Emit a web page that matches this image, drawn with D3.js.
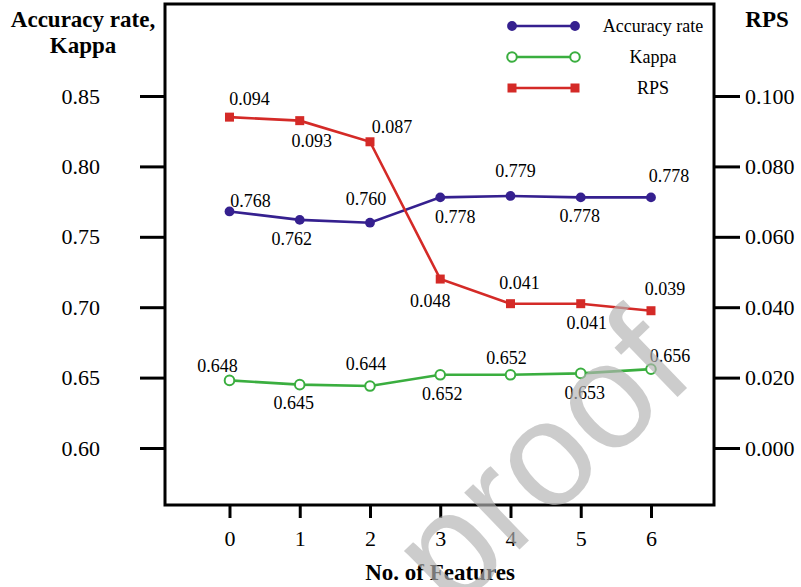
<!DOCTYPE html>
<html>
<head>
<meta charset="utf-8">
<script src="https://cdn.jsdelivr.net/npm/d3@7"></script>
<style>
  html, body { margin: 0; padding: 0; background: #fff; }
  svg { display: block; }
</style>
</head>
<body>
<svg id="chart" width="801" height="587"></svg>
<script>
// Number of features removed, and the three evaluation measures
const features = [0, 1, 2, 3, 4, 5, 6];
const accuracy = [0.768, 0.762, 0.760, 0.778, 0.779, 0.778, 0.778];
const kappa    = [0.648, 0.645, 0.644, 0.652, 0.652, 0.653, 0.656];
const rps      = [0.094, 0.093, 0.087, 0.048, 0.041, 0.041, 0.039];

const leftTicks  = [0.60, 0.65, 0.70, 0.75, 0.80, 0.85];
const rightTicks = [0.000, 0.020, 0.040, 0.060, 0.080, 0.100];

// Value-label placement around each marker: [dx, dy] in pixels
const accLabelOffset = [[21, -4], [-8, 25], [-4, -18], [15, 26], [5, -19], [-1, 25], [18, -15]];
const kapLabelOffset = [[-12, -8], [-6, 24], [-4, -16], [2, 25], [-4, -11], [4, 26], [19, -7]];
const rpsLabelOffset = [[20, -12], [12, 26], [22, -9], [-10, 28], [9, -15], [6, 25], [14, -16]];

const COL_ACC = "#35208f";
const COL_KAP = "#3aae3f";
const COL_RPS = "#d42a27";
const SERIF = "'Liberation Serif', 'Times New Roman', serif";

const svg = d3.select("#chart");

const frame = { left: 165, right: 714, top: 4, bottom: 505 };

const x = d3.scaleLinear().domain([-0.918, 6.897]).range([frame.left, frame.right]);
const yL = d3.scaleLinear().domain([0.55952, 0.91534]).range([frame.bottom, frame.top]);
const yR = d3.scaleLinear().domain([-0.01619, 0.12614]).range([frame.bottom, frame.top]);

// Axes
function styleAxis(g) {
  g.select(".domain").remove();
  g.selectAll(".tick line").attr("stroke", "#000").attr("stroke-width", 3);
  g.selectAll(".tick text")
    .attr("fill", "#000")
    .style("font-family", SERIF)
    .style("font-size", "22px");
}

svg.append("g")
  .attr("transform", `translate(${frame.left},0)`)
  .call(d3.axisLeft(yL).tickValues(leftTicks).tickSize(25).tickPadding(40)
    .tickFormat(d3.format(".2f")))
  .call(styleAxis);

svg.append("g")
  .attr("transform", `translate(${frame.right},0)`)
  .call(d3.axisRight(yR).tickValues(rightTicks).tickSize(26).tickPadding(5)
    .tickFormat(d3.format(".3f")))
  .call(styleAxis);

svg.append("g")
  .attr("transform", `translate(0,${frame.bottom})`)
  .call(d3.axisBottom(x).tickValues(features).tickSize(13).tickPadding(12)
    .tickFormat(d3.format("d")))
  .call(styleAxis);

// Plot frame
svg.append("rect")
  .attr("x", frame.left).attr("y", frame.top)
  .attr("width", frame.right - frame.left)
  .attr("height", frame.bottom - frame.top)
  .attr("fill", "none").attr("stroke", "#000").attr("stroke-width", 3);

// Axis titles
const titleStyle = sel => sel
  .style("font-family", SERIF).style("font-size", "23px")
  .style("font-weight", "bold").attr("text-anchor", "middle").attr("fill", "#000");

svg.append("text").attr("x", 83).attr("y", 27).text("Accuracy rate,").call(titleStyle);
svg.append("text").attr("x", 83).attr("y", 53).text("Kappa").call(titleStyle);
svg.append("text").attr("x", 767).attr("y", 27).text("RPS").call(titleStyle);
svg.append("text").attr("x", 440).attr("y", 580).text("No. of Features").call(titleStyle);

// Series
function drawMarker(g, type, color, cx, cy) {
  if (type === "square") {
    g.append("rect")
      .attr("x", cx - 4.5).attr("y", cy - 4.5)
      .attr("width", 9).attr("height", 9)
      .attr("fill", color);
  } else if (type === "open") {
    g.append("circle").attr("cx", cx).attr("cy", cy).attr("r", 4.8)
      .attr("fill", "#fff").attr("stroke", color).attr("stroke-width", 2);
  } else {
    g.append("circle").attr("cx", cx).attr("cy", cy).attr("r", 4.9)
      .attr("fill", color);
  }
}

function drawSeries(values, yScale, color, marker, offsets, fmt) {
  const g = svg.append("g");
  const line = d3.line().x((d, i) => x(features[i])).y(d => yScale(d));
  g.append("path").datum(values)
    .attr("d", line).attr("fill", "none")
    .attr("stroke", color).attr("stroke-width", 2.6);
  values.forEach((v, i) => drawMarker(g, marker, color, x(features[i]), yScale(v)));
  g.selectAll("text.val").data(values).enter().append("text")
    .attr("class", "val")
    .attr("x", (d, i) => x(features[i]) + offsets[i][0])
    .attr("y", (d, i) => yScale(d) + offsets[i][1])
    .attr("text-anchor", "middle")
    .style("font-family", SERIF).style("font-size", "18px")
    .attr("fill", "#000")
    .text(d => d3.format(fmt)(d));
}

drawSeries(kappa, yL, COL_KAP, "open", kapLabelOffset, ".3f");
drawSeries(accuracy, yL, COL_ACC, "filled", accLabelOffset, ".3f");
drawSeries(rps, yR, COL_RPS, "square", rpsLabelOffset, ".3f");

// Legend
const legendItems = [
  { name: "Accuracy rate", color: COL_ACC, marker: "filled" },
  { name: "Kappa", color: COL_KAP, marker: "open" },
  { name: "RPS", color: COL_RPS, marker: "square" }
];
const legend = svg.append("g");
legendItems.forEach((item, i) => {
  const ly = 26 + i * 31;
  legend.append("line")
    .attr("x1", 512).attr("x2", 575).attr("y1", ly).attr("y2", ly)
    .attr("stroke", item.color).attr("stroke-width", 2.6);
  drawMarker(legend, item.marker, item.color, 512, ly);
  drawMarker(legend, item.marker, item.color, 575, ly);
  legend.append("text")
    .attr("x", 653).attr("y", ly + 6)
    .attr("text-anchor", "middle")
    .style("font-family", SERIF).style("font-size", "18px")
    .attr("fill", "#000")
    .text(item.name);
});

// Watermark stamped across the lower right
svg.append("text")
  .attr("transform", "translate(575,496) rotate(-44)")
  .attr("text-anchor", "middle")
  .style("font-family", "'Liberation Sans', Arial, sans-serif")
  .style("font-size", "150px")
  .attr("fill", "#b3b3b3")
  .attr("fill-opacity", 0.67)
  .text("proof");
</script>
</body>
</html>
